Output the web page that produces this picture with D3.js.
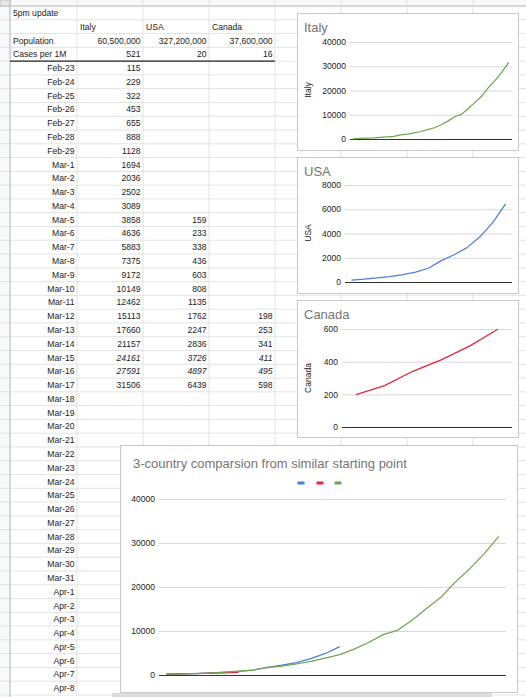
<!DOCTYPE html>
<html><head><meta charset="utf-8">
<script src="https://cdn.jsdelivr.net/npm/d3@7"></script>
<style>body{margin:0;background:#fff}svg{display:block;font-family:"Liberation Sans",Arial,sans-serif}</style>
</head><body><svg id="c" width="526" height="697"></svg>
<script>
// ---- data ----
const countries = ["Italy", "USA", "Canada"];
const population = ["60,500,000", "327,200,000", "37,600,000"];
const casesPer1M = ["521", "20", "16"];
const dates = ["Feb-23","Feb-24","Feb-25","Feb-26","Feb-27","Feb-28","Feb-29",
  "Mar-1","Mar-2","Mar-3","Mar-4","Mar-5","Mar-6","Mar-7","Mar-8","Mar-9","Mar-10",
  "Mar-11","Mar-12","Mar-13","Mar-14","Mar-15","Mar-16","Mar-17","Mar-18","Mar-19",
  "Mar-20","Mar-21","Mar-22","Mar-23","Mar-24","Mar-25","Mar-26","Mar-27","Mar-28",
  "Mar-29","Mar-30","Mar-31","Apr-1","Apr-2","Apr-3","Apr-4","Apr-5","Apr-6","Apr-7","Apr-8"];
const italyDates = dates.slice(0, 24);
const italy = [115,229,322,453,655,888,1128,1694,2036,2502,3089,3858,4636,5883,7375,9172,10149,12462,15113,17660,21157,24161,27591,31506];
const usaDates = ["Mar-5","Mar-6","Mar-7","Mar-8","Mar-9","Mar-10","Mar-11","Mar-12","Mar-13","Mar-14","Mar-15","Mar-16","Mar-17"];
const usa = [159,233,338,436,603,808,1135,1762,2247,2836,3726,4897,6439];
const canadaDates = ["Mar-12","Mar-13","Mar-14","Mar-15","Mar-16","Mar-17"];
const canada = [198,253,341,411,495,598];
const italicDates = ["Mar-15","Mar-16"];
const italyTicks = [0,10000,20000,30000,40000];
const usaTicks = [0,2000,4000,6000,8000];
const canadaTicks = [0,200,400,600];
const compareTicks = [0,10000,20000,30000,40000];
const compareTitle = "3-country comparsion from similar starting point";

const colors = {Italy:"#6aa84f", USA:"#4a7fdc", Canada:"#e0283c"};

const svg = d3.select("#c");
const W = 526, H = 697;

// ---- spreadsheet grid ----
const rowTop = 6, rowH = 13.78;
const colX = [10, 77, 143, 209, 275, 341, 407, 473, 539];
const g = svg.append("g");
g.append("rect").attr("x",0).attr("y",0).attr("width",W).attr("height",rowTop).attr("fill","#f8f9fa");
g.append("rect").attr("x",0).attr("y",0).attr("width",colX[0]).attr("height",H).attr("fill","#f8f9fa");
for (let i = 0; i <= 50; i++) {
  const y = rowTop + i * rowH;
  g.append("line").attr("x1",0).attr("x2",W).attr("y1",y).attr("y2",y).attr("stroke","#e2e3e3").attr("stroke-width",1);
}
colX.forEach(x => g.append("line").attr("x1",x).attr("x2",x).attr("y1",0).attr("y2",H).attr("stroke","#e2e3e3"));
g.append("line").attr("x1",colX[0]).attr("x2",colX[0]).attr("y1",0).attr("y2",H).attr("stroke","#c0c0c0");
g.append("line").attr("x1",0).attr("x2",W).attr("y1",rowTop).attr("y2",rowTop).attr("stroke","#c0c0c0");
g.append("rect").attr("x",0).attr("y",0).attr("width",colX[0]).attr("height",rowTop).attr("fill","#e8e8e8").attr("stroke","#bbb");

function cell(row, col, text, align, italic) {
  const y = rowTop + row * rowH + 10;
  const x = align === "end" ? colX[col + 1] - 2.5 : colX[col] + 3;
  g.append("text").attr("x",x).attr("y",y).attr("text-anchor",align === "end" ? "end" : "start")
    .attr("font-size","8.6px").attr("fill","#222").attr("font-style", italic ? "italic" : null).text(text);
}
cell(0, 0, "5pm update", "start");
countries.forEach((c, i) => cell(1, i + 1, c, "start"));
cell(2, 0, "Population", "start");
population.forEach((p, i) => cell(2, i + 1, p, "end"));
cell(3, 0, "Cases per 1M", "start");
casesPer1M.forEach((p, i) => cell(3, i + 1, p, "end"));
g.append("line").attr("x1",colX[0]).attr("x2",colX[4]).attr("y1",rowTop + 4*rowH).attr("y2",rowTop + 4*rowH).attr("stroke","#222").attr("stroke-width",1.2);
dates.forEach((d, i) => {
  const it = italicDates.includes(d);
  cell(4 + i, 0, d, "end");
  const a = italyDates.indexOf(d); if (a >= 0) cell(4 + i, 1, String(italy[a]), "end", it);
  const b = usaDates.indexOf(d); if (b >= 0) cell(4 + i, 2, String(usa[b]), "end", it);
  const c = canadaDates.indexOf(d); if (c >= 0) cell(4 + i, 3, String(canada[c]), "end", it);
});

// bottom scroll shadow
svg.append("rect").attr("x",112).attr("y",693).attr("width",380).attr("height",4).attr("fill","#dcdcdc");

// ---- charts ----
function chart(o) {
  const c = svg.append("g");
  c.append("rect").attr("x",o.box[0]+0.5).attr("y",o.box[1]+0.5).attr("width",o.box[2]-o.box[0]).attr("height",o.box[3]-o.box[1])
    .attr("fill","#fff").attr("stroke","#c8c8c8");
  c.append("text").attr("x",o.title[0]).attr("y",o.title[1]).attr("font-size",o.titleSize+"px").attr("fill","#757575").text(o.titleText);
  const y = d3.scaleLinear().domain(o.domain).range([o.plot[3], o.plot[1]]);
  const axis = d3.axisLeft(y).tickValues(o.ticks).tickSize(-(o.plot[2]-o.plot[0])).tickPadding(4).tickFormat(d3.format("d"));
  const ax = c.append("g").attr("transform",`translate(${o.plot[0]},0)`).call(axis);
  ax.select(".domain").remove();
  ax.selectAll(".tick line").attr("stroke",d => d === 0 ? "#333" : "#d9d9d9").attr("stroke-width",1);
  ax.selectAll(".tick text").attr("font-size","8.5px").attr("fill","#222").attr("font-family","Liberation Sans, Arial, sans-serif");
  if (o.axisTitle) {
    c.append("text").attr("transform",`translate(${o.axisTitle[0]},${o.axisTitle[1]}) rotate(-90)`)
      .attr("text-anchor","middle").attr("font-size","8.5px").attr("fill","#222").text(o.axisTitleText);
  }
  const n = o.nBands;
  const x = d3.scalePoint().domain(d3.range(n)).range([o.plot[0], o.plot[2]]).padding(0.5);
  o.series.forEach(s => {
    c.append("path").datum(s.values).attr("fill","none").attr("stroke",s.color).attr("stroke-width",1.25)
      .attr("stroke-linejoin","round")
      .attr("d", d3.line().x((d,i) => x(i)).y(d => y(d)));
  });
  if (o.legend) {
    o.legend.forEach((s, i) => {
      c.append("rect").attr("x",o.legendX[i]-3.5).attr("y",o.legendY-1.5).attr("width",7).attr("height",3).attr("fill",s.color);
    });
  }
}

chart({box:[297,13,518,150], title:[304,32], titleSize:13, titleText:"Italy",
  plot:[350,42,512,139], domain:[0,40000], ticks:italyTicks, axisTitle:[311,90], axisTitleText:"Italy",
  nBands:italy.length, series:[{values:italy,color:colors.Italy}]});
chart({box:[297,157,518,293], title:[304,176], titleSize:13, titleText:"USA",
  plot:[345,185,512,282], domain:[0,8000], ticks:usaTicks, axisTitle:[311,233], axisTitleText:"USA",
  nBands:usa.length, series:[{values:usa,color:colors.USA}]});
chart({box:[297,300,518,437], title:[304,319], titleSize:13, titleText:"Canada",
  plot:[342,329,512,427], domain:[0,600], ticks:canadaTicks, axisTitle:[311,378], axisTitleText:"Canada",
  nBands:canada.length, series:[{values:canada,color:colors.Canada}]});
const cmpSeries = [{values:usa,color:colors.USA},{values:canada,color:colors.Canada},{values:italy,color:colors.Italy}];
chart({box:[120,445,517,692], title:[133,468], titleSize:13, titleText:compareTitle,
  plot:[159,499,506,675], domain:[0,40000], ticks:compareTicks,
  nBands:italy.length, series:cmpSeries, legend:cmpSeries, legendX:[301,320,338], legendY:483});
</script></body></html>
